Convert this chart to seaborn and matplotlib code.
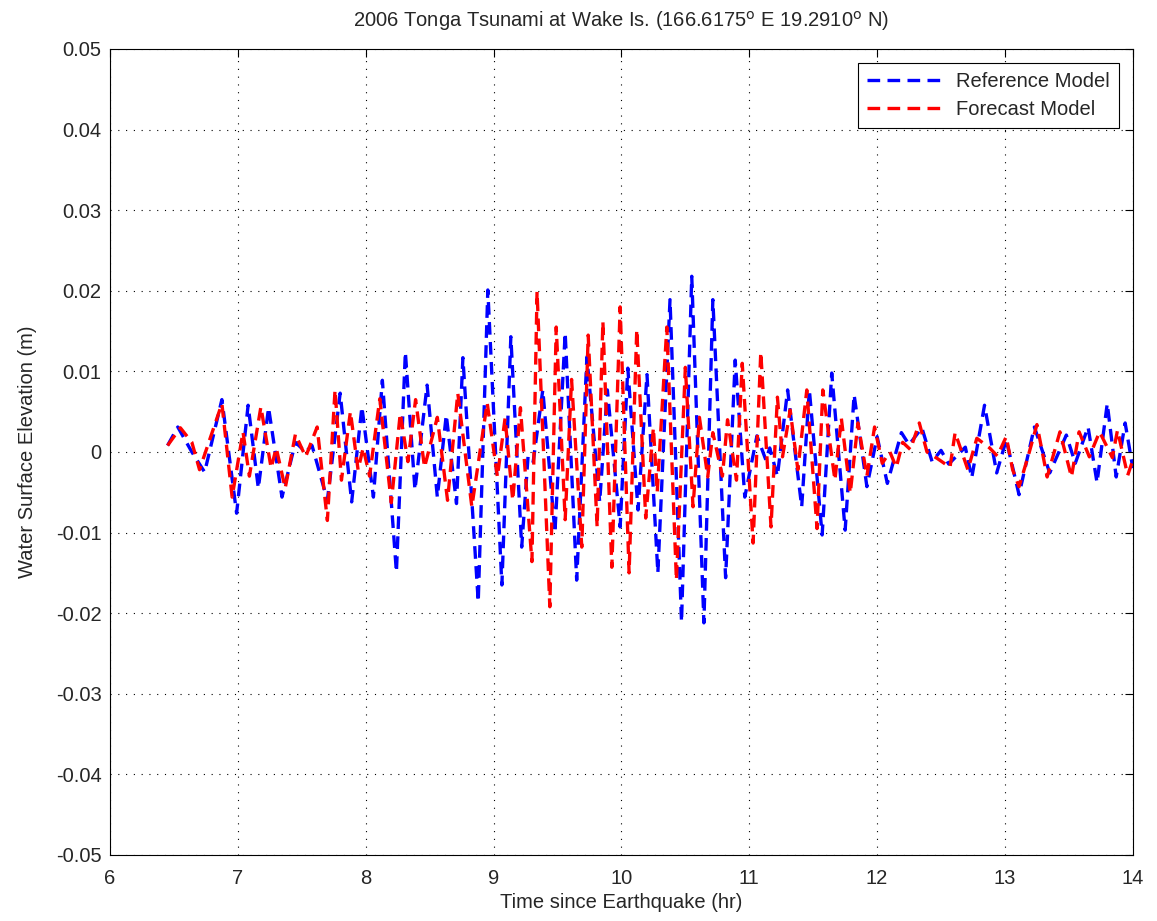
import matplotlib
matplotlib.use('Agg')
import matplotlib.pyplot as plt
import seaborn as sns
from matplotlib.ticker import FuncFormatter

# Reference model (blue) - peaks/troughs
ref_time = [6.45, 6.53, 6.64, 6.74, 6.875, 6.99, 7.08, 7.16, 7.24, 7.345,
            7.45, 7.53, 7.58, 7.70, 7.80, 7.89, 7.97, 8.06, 8.13, 8.24,
            8.31, 8.385, 8.48, 8.56, 8.63, 8.71, 8.76, 8.88, 8.955, 9.065,
            9.135, 9.22, 9.27, 9.31, 9.385, 9.48, 9.56, 9.65, 9.73, 9.83,
            9.89, 9.99, 10.05, 10.13, 10.2, 10.285, 10.38, 10.47, 10.55, 10.645,
            10.715, 10.815, 10.89, 10.965, 11.06, 11.13, 11.16, 11.22, 11.30, 11.41,
            11.47, 11.57, 11.645, 11.75, 11.82, 11.92, 12.0, 12.08, 12.19, 12.25,
            12.35, 12.43, 12.5, 12.56, 12.69, 12.74, 12.84, 12.935, 13.01, 13.11,
            13.23, 13.35, 13.48, 13.55, 13.65, 13.72, 13.80, 13.87, 13.94, 14.0]
ref_elev = [0.0008, 0.0031, 0.0, -0.0025, 0.0065, -0.0076, 0.0058, -0.0045, 0.0055, -0.0056,
            0.0012, 0.0, 0.0008, -0.0060, 0.0073, -0.0062, 0.0056, -0.0056, 0.0089, -0.0149,
            0.0124, -0.0047, 0.0083, -0.0056, 0.0046, -0.0064, 0.0117, -0.0186, 0.0201, -0.0165,
            0.0143, -0.0118, -0.0005, -0.0012, 0.0077, -0.0100, 0.0148, -0.0159, 0.0118, -0.0062,
            0.0077, -0.0093, 0.0104, -0.0072, 0.0096, -0.0150, 0.0189, -0.0211, 0.0218, -0.0212,
            0.0189, -0.0156, 0.0114, -0.0056, 0.0020, -0.0010, 0.0005, -0.0030, 0.0077, -0.0068,
            0.0077, -0.0103, 0.0098, -0.0097, 0.0071, -0.0043, 0.0019, -0.0039, 0.0024, 0.0009,
            0.0030, -0.0012, 0.0002, -0.0015, 0.0006, -0.0032, 0.0058, -0.0026, 0.0015, -0.0053,
            0.0031, -0.0026, 0.0021, -0.0014, 0.0031, -0.0038, 0.0060, -0.0031, 0.0036, -0.0020]

# Forecast model (red)
fc_time = [6.45, 6.55, 6.64, 6.70, 6.875, 6.955, 7.04, 7.09, 7.18, 7.26,
           7.30, 7.37, 7.45, 7.53, 7.62, 7.70, 7.76, 7.81, 7.88, 7.94,
           7.98, 8.03, 8.11, 8.20, 8.27, 8.33, 8.39, 8.46, 8.56, 8.64,
           8.72, 8.83, 8.95, 9.03, 9.09, 9.15, 9.21, 9.30, 9.34, 9.44,
           9.49, 9.56, 9.61, 9.69, 9.74, 9.81, 9.855, 9.925, 9.99, 10.06,
           10.12, 10.19, 10.25, 10.28, 10.355, 10.43, 10.50, 10.56, 10.61, 10.675,
           10.715, 10.79, 10.83, 10.90, 10.945, 11.03, 11.09, 11.17, 11.22, 11.26,
           11.32, 11.38, 11.45, 11.53, 11.575, 11.67, 11.72, 11.79, 11.85, 11.92,
           11.98, 12.04, 12.10, 12.15, 12.20, 12.26, 12.33, 12.39, 12.47, 12.57,
           12.61, 12.71, 12.78, 12.88, 12.94, 13.01, 13.06, 13.11, 13.18, 13.25,
           13.33, 13.43, 13.52, 13.58, 13.66, 13.74, 13.84, 13.88, 13.96, 14.0]
fc_elev = [0.0008, 0.0030, 0.0012, -0.0022, 0.0060, -0.0056, 0.0025, -0.0030, 0.0056, -0.0020,
           0.0005, -0.0045, 0.0022, -0.0006, 0.0031, -0.0085, 0.0077, -0.0035, 0.0050, -0.0022,
           0.0005, -0.0030, 0.0066, -0.0063, 0.0048, -0.0012, 0.0065, -0.0019, 0.0043, -0.0060,
           0.0073, -0.0068, 0.0061, -0.0031, 0.0042, -0.0060, 0.0055, -0.0136, 0.0199, -0.0192,
           0.0155, -0.0084, 0.0090, -0.0118, 0.0145, -0.0093, 0.0162, -0.0143, 0.0180, -0.0150,
           0.0152, -0.0082, 0.0030, -0.0050, 0.0155, -0.0159, 0.0105, -0.0068, 0.0043, -0.0031,
           0.0024, -0.0030, 0.0040, -0.0035, 0.0110, -0.0113, 0.0124, -0.0093, 0.0068, -0.0006,
           0.0052, -0.0022, 0.0077, -0.0095, 0.0077, -0.0035, 0.0042, -0.0051, 0.0036, -0.0030,
           0.0031, -0.0014, 0.0000, -0.0019, 0.0012, 0.0003, 0.0036, 0.0000, -0.0008, -0.0019,
           0.0024, -0.0022, 0.0017, 0.0005, -0.0005, 0.0019, -0.0022, -0.0043, -0.0006, 0.0034,
           -0.0031, 0.0025, -0.0031, 0.0025, -0.0006, 0.0025, -0.0007, 0.0027, -0.0029, -0.0010]

x_ticks = [6, 7, 8, 9, 10, 11, 12, 13, 14]
y_ticks = [-0.05, -0.04, -0.03, -0.02, -0.01, 0, 0.01, 0.02, 0.03, 0.04, 0.05]

sns.set_style('white')
plt.rcParams['font.family'] = ['Liberation Sans', 'DejaVu Sans']
plt.rcParams['axes.unicode_minus'] = False

fs = 14.5
fig = plt.figure(figsize=(11.57, 9.21), dpi=100)
ax = fig.add_axes([0.0951, 0.0717, 0.884, 0.8751])

sns.lineplot(x=ref_time, y=ref_elev, ax=ax, color='#0000ff', linewidth=2.4,
             label='Reference Model', estimator=None)
sns.lineplot(x=fc_time, y=fc_elev, ax=ax, color='#ff0000', linewidth=2.4,
             label='Forecast Model', estimator=None)
for line in ax.lines:
    line.set_dashes((3.8, 2.2))

ax.set_xlim(6, 14)
ax.set_ylim(-0.05, 0.05)
ax.set_xticks(x_ticks)
ax.set_yticks(y_ticks)
ax.yaxis.set_major_formatter(FuncFormatter(lambda v, p: '%g' % round(v, 3)))
ax.tick_params(direction='in', top=True, right=True, labelsize=fs, length=6,
               color='black', pad=6)
ax.tick_params(axis='x', pad=10)
ax.grid(True, color='black', linestyle=(0, (1, 6)), linewidth=0.8)
for s in ax.spines.values():
    s.set_color('black')
    s.set_linewidth(0.8)

ax.set_xlabel('Time since Earthquake (hr)', fontsize=fs, labelpad=4)
ax.set_ylabel('Water Surface Elevation (m)', fontsize=fs, labelpad=14)
ax.set_title('2006 Tonga Tsunami at Wake Is. (166.6175$^{\\rm o}$ E 19.2910$^{\\rm o}$ N)',
             fontsize=fs, pad=16)

leg = ax.legend(loc='upper right', fontsize=fs, frameon=True, fancybox=False,
                framealpha=1, edgecolor='black', handlelength=3.6,
                borderaxespad=0.7, labelspacing=0.45, borderpad=0.45)
leg.get_frame().set_linewidth(0.8)

fig.savefig('out.png', dpi=100)
